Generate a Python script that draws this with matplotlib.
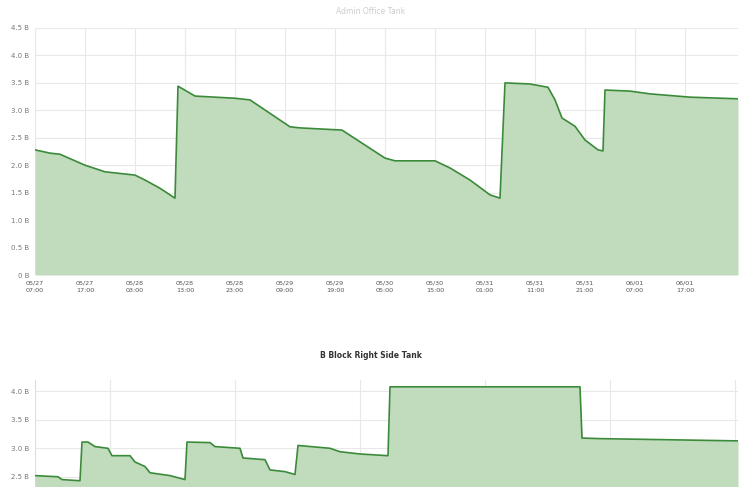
import matplotlib
matplotlib.use("Agg")
import matplotlib.pyplot as plt
import numpy as np

# top tank (x in tick-slot units, values in B)
top_title = "Admin Office Tank"
top_x = [0.0, 0.3, 0.5, 1.0, 1.4, 2.0, 2.2, 2.5, 2.8, 2.86, 3.2, 4.0, 4.3, 5.1, 5.3,
         6.14, 7.0, 7.2, 8.0, 8.3, 8.7, 9.1, 9.3, 9.4, 9.9, 10.26, 10.4, 10.54, 10.8,
         11.0, 11.26, 11.36, 11.4, 11.9, 12.3, 13.1, 14.06]
top_y = [2.28, 2.22, 2.20, 2.00, 1.88, 1.82, 1.73, 1.58, 1.40, 3.44, 3.26, 3.22, 3.19,
         2.70, 2.68, 2.64, 2.13, 2.08, 2.08, 1.95, 1.73, 1.46, 1.40, 3.50, 3.48, 3.42,
         3.19, 2.86, 2.71, 2.46, 2.28, 2.26, 3.37, 3.35, 3.30, 3.24, 3.21]
top_ticks = ["05/27\n07:00", "05/27\n17:00", "05/28\n03:00", "05/28\n13:00",
             "05/28\n23:00", "05/29\n09:00", "05/29\n19:00", "05/30\n05:00",
             "05/30\n15:00", "05/31\n01:00", "05/31\n11:00", "05/31\n21:00",
             "06/01\n07:00", "06/01\n17:00"]
top_yticks = [0, 0.5, 1.0, 1.5, 2.0, 2.5, 3.0, 3.5, 4.0, 4.5]

# bottom tank
bot_title = "B Block Right Side Tank"
bot_x = [0.0, 0.46, 0.54, 0.9, 0.94, 1.06, 1.2, 1.46, 1.54, 1.9, 2.0, 2.2, 2.3, 2.7,
         3.0, 3.04, 3.5, 3.6, 4.1, 4.16, 4.6, 4.7, 5.0, 5.2, 5.26, 5.9, 6.1, 6.5, 7.06,
         7.1, 10.9, 10.94, 11.3, 14.06]
bot_y = [2.52, 2.50, 2.45, 2.43, 3.11, 3.11, 3.03, 3.00, 2.87, 2.87, 2.76, 2.68, 2.57,
         2.52, 2.45, 3.11, 3.10, 3.03, 3.00, 2.83, 2.80, 2.62, 2.59, 2.54, 3.05, 3.00,
         2.94, 2.90, 2.87, 4.08, 4.08, 3.18, 3.17, 3.13]
bot_yticks = [2.5, 3.0, 3.5, 4.0]

line_c = "#3a8a3a"
fill_c = "#c0dcbc"
grid_c = "#e8e8e8"
lab_c = "#777777"

def fmt(v):
    return "0 B" if v == 0 else "%.1f B" % v

fig = plt.figure(figsize=(7.41, 4.87), dpi=100)
W, H = 741.0, 487.0

def setup(ax, yt):
    for s in ax.spines.values():
        s.set_visible(False)
    ax.set_yticks(yt)
    ax.set_yticklabels([fmt(v) for v in yt], fontsize=5, color=lab_c)
    ax.grid(True, color=grid_c, linewidth=0.8)
    ax.set_axisbelow(True)
    ax.tick_params(length=0, pad=4)
    ax.axvline(0, color="#dddddd", linewidth=0.8, zorder=0)

ax1 = fig.add_axes([35 / W, (H - 275) / H, (738 - 35) / W, (275 - 28) / H])
setup(ax1, top_yticks)
ax1.fill_between(top_x, top_y, 0, color=fill_c, linewidth=0)
ax1.plot(top_x, top_y, color=line_c, linewidth=1.2)
ax1.set_xlim(0, 14.06)
ax1.set_ylim(0, 4.5)
ax1.set_xticks(np.arange(len(top_ticks)))
ax1.set_xticklabels(top_ticks, fontsize=4.6, color="#555555", linespacing=1.5)
fig.text(0.5, (H - 12) / H, top_title, ha="center", va="center", fontsize=5.5, color="#cccccc")

ax2 = fig.add_axes([35 / W, 0, (738 - 35) / W, (487 - 380) / H])
setup(ax2, bot_yticks)
ax2.fill_between(bot_x, bot_y, 2.0, color=fill_c, linewidth=0)
ax2.plot(bot_x, bot_y, color=line_c, linewidth=1.2)
ax2.set_xlim(0, 14.06)
ax2.set_ylim(2.32, 4.2)
ax2.set_xticks([1.5, 4.0, 6.5, 9.0, 11.5, 14.0])
ax2.set_xticklabels([])
fig.text(0.5, (H - 355) / H, bot_title, ha="center", va="center", fontsize=5.5,
         color="#333333", fontweight="bold")

fig.savefig("out.png", dpi=100)
